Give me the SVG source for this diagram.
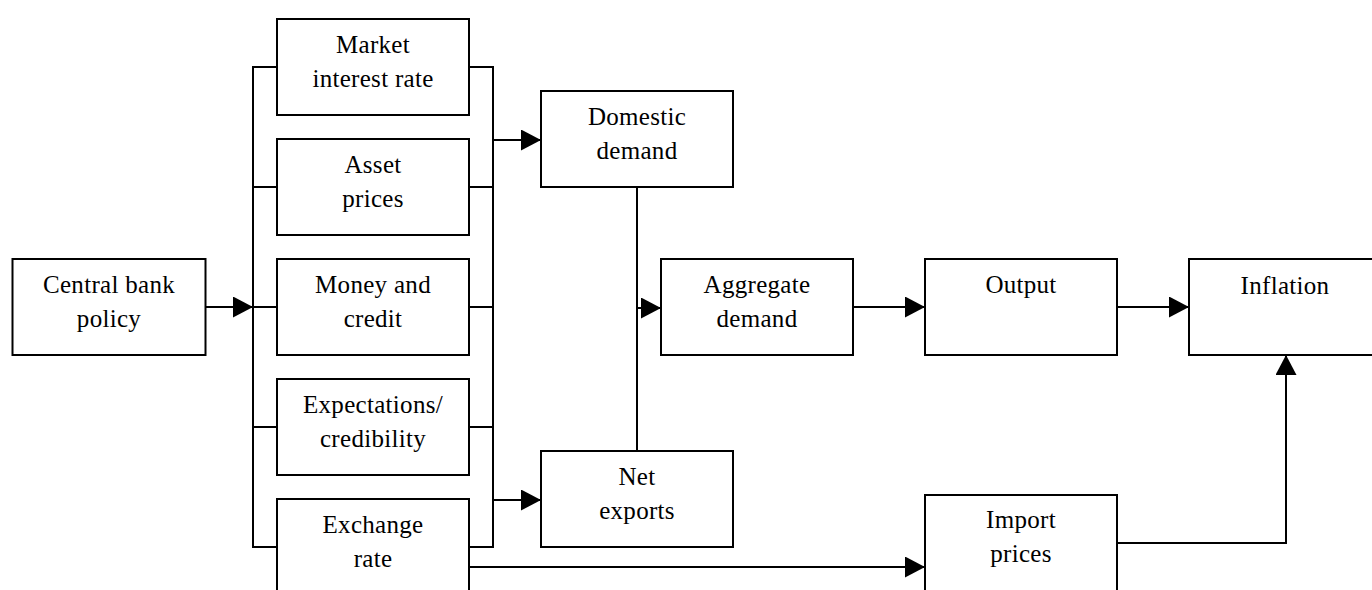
<svg xmlns="http://www.w3.org/2000/svg" width="1372" height="590" viewBox="0 0 1372 590">
<style>
.box{fill:#fff;stroke:#000;stroke-width:2}
.ln{fill:none;stroke:#000;stroke-width:2}
text{font-family:"Liberation Serif","Times New Roman",serif;font-size:25px;letter-spacing:0.3px;text-anchor:middle;fill:#000}
</style>
<defs>
<marker id="ah" markerUnits="userSpaceOnUse" markerWidth="20" markerHeight="21" refX="20" refY="10.5" orient="auto">
<path d="M0,0 L20,10.5 L0,21 Z" fill="#000"/>
</marker>
</defs>
<rect width="1372" height="590" fill="#fff"/>
<g id="connectors">
<line class="ln" x1="205.5" y1="307" x2="253" y2="307" marker-end="url(#ah)"/>
<path class="ln" d="M277,67 H253 V547 H277"/>
<line class="ln" x1="253" y1="187" x2="277" y2="187"/>
<line class="ln" x1="253" y1="307" x2="277" y2="307"/>
<line class="ln" x1="253" y1="427" x2="277" y2="427"/>
<path class="ln" d="M469,67 H493 V547 H469"/>
<line class="ln" x1="469" y1="187" x2="493" y2="187"/>
<line class="ln" x1="469" y1="307" x2="493" y2="307"/>
<line class="ln" x1="469" y1="427" x2="493" y2="427"/>
<line class="ln" x1="493" y1="140" x2="541" y2="140" marker-end="url(#ah)"/>
<line class="ln" x1="493" y1="500" x2="541" y2="500" marker-end="url(#ah)"/>
<line class="ln" x1="637" y1="187" x2="637" y2="451"/>
<line class="ln" x1="637" y1="308" x2="661" y2="308" marker-end="url(#ah)"/>
<line class="ln" x1="853" y1="307" x2="925" y2="307" marker-end="url(#ah)"/>
<line class="ln" x1="1117" y1="307" x2="1189" y2="307" marker-end="url(#ah)"/>
<line class="ln" x1="469" y1="567" x2="925" y2="567" marker-end="url(#ah)"/>
<path class="ln" d="M1117,543 H1286 V355" marker-end="url(#ah)"/>
</g>
<g id="central-bank"><rect class="box" x="12.5" y="259" width="193" height="96"/><text x="109" y="293">Central bank</text><text x="109" y="327">policy</text></g>
<g id="market-interest"><rect class="box" x="277" y="19" width="192" height="96"/><text x="373" y="53">Market</text><text x="373" y="87">interest rate</text></g>
<g id="asset-prices"><rect class="box" x="277" y="139" width="192" height="96"/><text x="373" y="173">Asset</text><text x="373" y="207">prices</text></g>
<g id="money-credit"><rect class="box" x="277" y="259" width="192" height="96"/><text x="373" y="293">Money and</text><text x="373" y="327">credit</text></g>
<g id="expectations"><rect class="box" x="277" y="379" width="192" height="96"/><text x="373" y="413">Expectations/</text><text x="373" y="447">credibility</text></g>
<g id="exchange-rate"><rect class="box" x="277" y="499" width="192" height="96"/><text x="373" y="533">Exchange</text><text x="373" y="567">rate</text></g>
<g id="domestic-demand"><rect class="box" x="541" y="91" width="192" height="96"/><text x="637" y="125">Domestic</text><text x="637" y="159">demand</text></g>
<g id="net-exports"><rect class="box" x="541" y="451" width="192" height="96"/><text x="637" y="485">Net</text><text x="637" y="519">exports</text></g>
<g id="aggregate-demand"><rect class="box" x="661" y="259" width="192" height="96"/><text x="757" y="293">Aggregate</text><text x="757" y="327">demand</text></g>
<g id="output"><rect class="box" x="925" y="259" width="192" height="96"/><text x="1021" y="293">Output</text></g>
<g id="inflation"><rect class="box" x="1189" y="259" width="192" height="96"/><text x="1285" y="294">Inflation</text></g>
<g id="import-prices"><rect class="box" x="925" y="495" width="192" height="96"/><text x="1021" y="528">Import</text><text x="1021" y="562">prices</text></g>
</svg>
